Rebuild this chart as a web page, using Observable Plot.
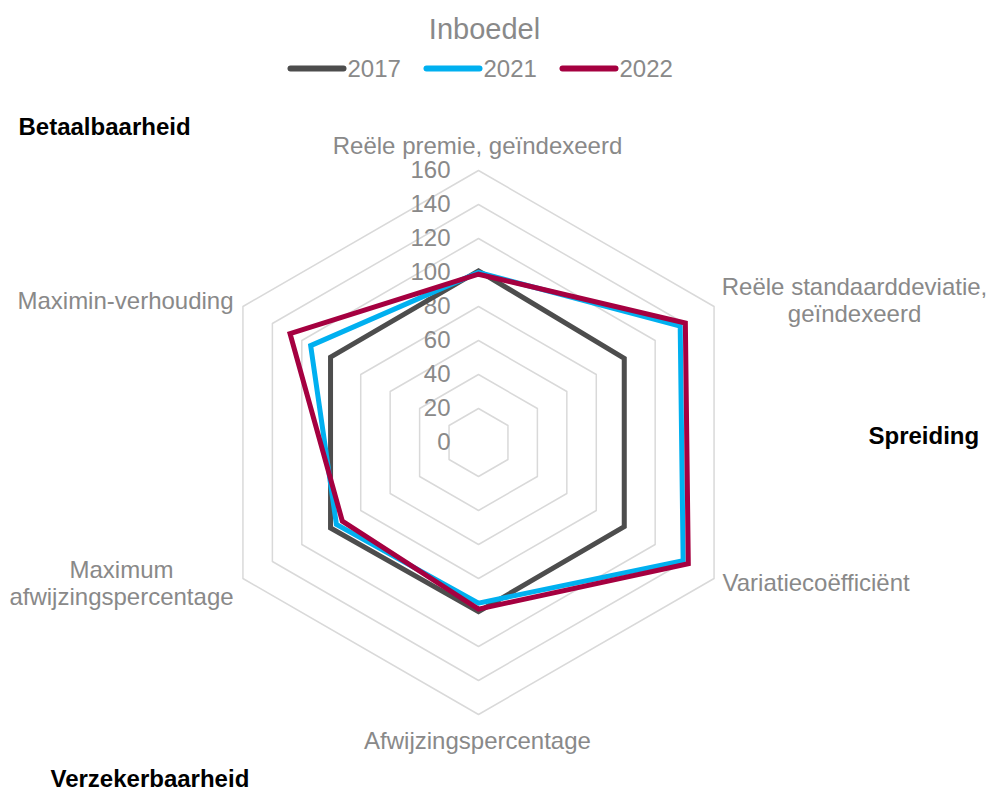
<!DOCTYPE html>
<html>
<head>
<meta charset="utf-8">
<script src="https://cdn.jsdelivr.net/npm/d3@7"></script>
<script src="https://cdn.jsdelivr.net/npm/@observablehq/plot@0.6"></script>
<style>
  html, body { margin: 0; padding: 0; background: #fff; }
  svg { display: block; }
</style>
</head>
<body>
<div id="chart"></div>
<script>
// ---- data ----
const title = "Inboedel";
const axisNames = [
  "Reële premie, geïndexeerd",
  "Reële standaarddeviatie, geïndexeerd",
  "Variatiecoëfficiënt",
  "Afwijzingspercentage",
  "Maximum afwijzingspercentage",
  "Maximin-verhouding"
];
const years = ["2017", "2021", "2022"];
const values2017 = [101, 99, 99, 99.5, 100.5, 100.5];
const values2021 = [100, 137, 139, 94.5, 96.5, 114];
const values2022 = [99, 140.5, 142.5, 98, 92.5, 128];
const tickValues = [0, 20, 40, 60, 80, 100, 120, 140, 160];
const groupLabels = ["Betaalbaarheid", "Spreiding", "Verzekerbaarheid"];
const colors = ["#4d4d4d", "#00b0f0", "#a50040"];

// ---- layout ----
const W = 989, H = 791, cx = 478, cy = 442, k = 1.7;
const px = x => (x - cx) / k;   // pixel -> data units
const py = y => (cy - y) / k;
const n = axisNames.length;
const ang = i => (i * 2 * Math.PI) / n;
const polar = (i, r) => ({x: r * Math.sin(ang(i)), y: r * Math.cos(ang(i))});

const seriesValues = [values2017, values2021, values2022];
const seriesPts = [];
years.forEach((yr, s) => seriesValues[s].forEach((v, i) => seriesPts.push({year: yr, ...polar(i, v)})));

const ringPts = [];
tickValues.filter(t => t > 0).forEach(t => axisNames.forEach((_, i) => ringPts.push({ring: t, ...polar(i, t)})));

const grey = "#898989";
const font = "Liberation Sans, Arial, sans-serif";

const axisLabelsMiddle = [
  {t: "Reële premie, geïndexeerd", x: 477, y: 153},
  {t: "Reële standaarddeviatie,", x: 854, y: 294},
  {t: "geïndexeerd", x: 854, y: 321},
  {t: "Afwijzingspercentage", x: 477, y: 748},
  {t: "Maximum", x: 121, y: 577},
  {t: "afwijzingspercentage", x: 121, y: 604},
  {t: "Maximin-verhouding", x: 125, y: 308}
];
const axisLabelsStart = [
  {t: "Variatiecoëfficiënt", x: 722, y: 590}
];
const groupPos = [
  {t: groupLabels[0], x: 18, y: 134},
  {t: groupLabels[1], x: 868, y: 443},
  {t: groupLabels[2], x: 50, y: 786}
];
const legendItems = years.map((yr, i) => ({year: yr, x1: 290 + i * 136, x2: 343 + i * 136, tx: 347 + i * 136}));

const plot = Plot.plot({
  width: W, height: H,
  margin: 0,
  x: {domain: [px(0), px(W)], axis: null},
  y: {domain: [py(H), py(0)], axis: null},
  color: {domain: years, range: colors},
  style: {fontFamily: font, background: "#fff"},
  marks: [
    Plot.line(ringPts, {x: "x", y: "y", z: "ring", curve: "linear-closed", stroke: "#d9d9d9", strokeWidth: 1.5}),
    Plot.text(tickValues, {x: 0, y: d => d, text: d => String(d), textAnchor: "end", dx: -28, fill: grey, fontSize: 24, lineAnchor: "middle"}),
    Plot.line(seriesPts, {x: "x", y: "y", z: "year", stroke: "year", curve: "linear-closed", strokeWidth: 5, strokeLinejoin: "miter", strokeMiterlimit: 10}),
    Plot.text(axisLabelsMiddle, {x: d => px(d.x), y: d => py(d.y), text: "t", textAnchor: "middle", lineAnchor: "bottom", fill: grey, fontSize: 24}),
    Plot.text(axisLabelsStart, {x: d => px(d.x), y: d => py(d.y), text: "t", textAnchor: "start", lineAnchor: "bottom", fill: grey, fontSize: 24}),
    Plot.text(groupPos, {x: d => px(d.x), y: d => py(d.y), text: "t", textAnchor: "start", lineAnchor: "bottom", fill: "#000", fontSize: 24, fontWeight: "bold"}),
    Plot.text([title], {x: px(484), y: py(38), text: d => d, textAnchor: "middle", lineAnchor: "bottom", fill: grey, fontSize: 29}),
    Plot.link(legendItems, {x1: d => px(d.x1), x2: d => px(d.x2), y1: py(68), y2: py(68), stroke: "year", strokeWidth: 6, strokeLinecap: "round"}),
    Plot.text(legendItems, {x: d => px(d.tx), y: py(76), text: "year", textAnchor: "start", lineAnchor: "bottom", fill: grey, fontSize: 24})
  ]
});
document.getElementById("chart").appendChild(plot);
</script>
</body>
</html>
